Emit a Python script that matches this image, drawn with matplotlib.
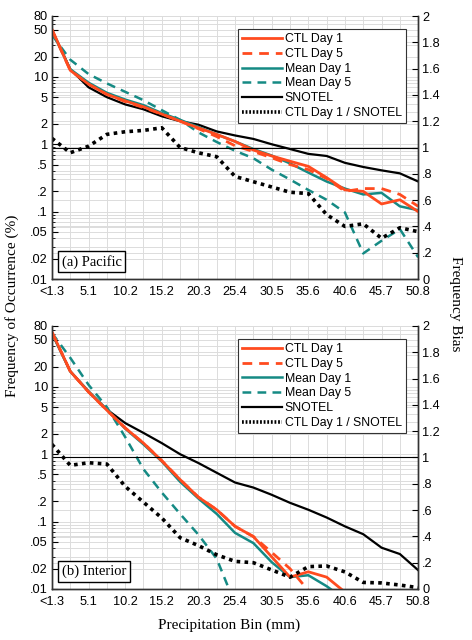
import numpy as np
import matplotlib
matplotlib.use('Agg')
import matplotlib.pyplot as plt
from matplotlib.lines import Line2D
from matplotlib.transforms import blended_transform_factory
from matplotlib.ticker import FixedLocator, NullFormatter

plt.rcParams['font.family'] = ['Liberation Sans', 'DejaVu Sans']

# bin index (every second bin of 1.27 mm), labels every fourth bin
bin_idx = np.arange(0, 41, 2)
tick_idx = np.arange(0, 41, 4)
tick_labels = ['<1.3', '5.1', '10.2', '15.2', '20.3', '25.4', '30.5', '35.6', '40.6', '45.7', '50.8']

# (a) Pacific - frequency of occurrence (%)
pac_ctl1 = [51, 12.5, 7.8, 5.5, 4.4, 3.6, 2.8, 2.2, 1.75, 1.4, 1.1, 0.82, 0.67, 0.56, 0.47, 0.32, 0.21, 0.2, 0.13, 0.15, 0.10]
pac_ctl5 = [50, 12.5, 7.8, 5.5, 4.3, 3.5, 2.8, 2.2, 1.7, 1.3, 0.95, 0.78, 0.63, 0.5, 0.42, 0.31, 0.2, 0.22, 0.22, 0.18, 0.12]
pac_mean1 = [48, 13, 8.2, 5.8, 4.6, 3.8, 2.9, 2.3, 1.8, 1.4, 1.1, 0.85, 0.68, 0.52, 0.38, 0.28, 0.22, 0.18, 0.19, 0.12, 0.105]
pac_mean5 = [42, 18, 11, 8, 6, 4.5, 3.2, 2.3, 1.5, 1.08, 0.8, 0.62, 0.42, 0.3, 0.21, 0.15, 0.097, 0.024, 0.037, 0.055, 0.021]
pac_snotel = [50, 13, 7, 5, 3.9, 3.3, 2.6, 2.2, 1.95, 1.55, 1.35, 1.2, 1.0, 0.85, 0.72, 0.67, 0.53, 0.46, 0.41, 0.37, 0.28]
pac_ratio = [1.07, 0.96, 1.01, 1.1, 1.12, 1.13, 1.15, 1.0, 0.96, 0.93, 0.78, 0.74, 0.70, 0.66, 0.65, 0.49, 0.40, 0.42, 0.31, 0.39, 0.36]

# (b) Interior
int_ctl1 = [65, 17, 8.4, 4.5, 2.45, 1.46, 0.8, 0.42, 0.23, 0.15, 0.085, 0.06, 0.03, 0.015, 0.018, 0.015, 0.009, np.nan, np.nan, np.nan, np.nan]
int_ctl5 = [65, 17, 8.4, 4.5, 2.45, 1.46, 0.8, 0.42, 0.23, 0.15, 0.085, 0.06, 0.035, 0.02, 0.0095, 0.005, np.nan, np.nan, np.nan, np.nan, np.nan]
int_mean1 = [62, 17, 8.6, 4.6, 2.4, 1.4, 0.78, 0.39, 0.22, 0.13, 0.068, 0.048, 0.025, 0.015, 0.016, 0.011, 0.007, np.nan, np.nan, np.nan, np.nan]
int_mean5 = [63, 27, 10.7, 5, 1.8, 0.6, 0.27, 0.13, 0.064, 0.028, 0.006, np.nan, np.nan, np.nan, np.nan, np.nan, np.nan, np.nan, np.nan, np.nan, np.nan]
int_snotel = [63, 17, 8.4, 4.6, 2.9, 2.07, 1.46, 1.0, 0.74, 0.53, 0.38, 0.32, 0.25, 0.19, 0.15, 0.115, 0.085, 0.065, 0.041, 0.033, 0.019]
int_ratio = [1.10, 0.94, 0.96, 0.95, 0.78, 0.66, 0.54, 0.39, 0.33, 0.26, 0.21, 0.2, 0.145, 0.09, 0.17, 0.175, 0.13, 0.05, 0.046, 0.03, 0.01]

freq_ticks = [80, 50, 20, 10, 5, 2, 1, .5, .2, .1, .05, .02, .01]
freq_labels = ['80', '50', '20', '10', '5', '2', '1', '.5', '.2', '.1', '.05', '.02', '.01']
bias_ticks = [0, .2, .4, .6, .8, 1, 1.2, 1.4, 1.6, 1.8, 2]
bias_labels = ['0', '.2', '.4', '.6', '.8', '1', '1.2', '1.4', '1.6', '1.8', '2']

RED = '#ff4b1f'
TEAL = '#158a84'
GRID = '#dcdcdc'
FS = 9.2


def panel(ax, ctl1, ctl5, mean1, mean5, snotel, ratio, title):
    ax.set_yscale('log')
    ax.set_ylim(0.01, 80)
    ax.set_xlim(0, 40)
    ax2 = ax.twinx()
    ax2.set_ylim(0, 2)

    # grid (left log grid + right-axis grid drawn underneath the data)
    minor = [m * 10.0 ** e for e in range(-2, 2) for m in range(1, 10)]
    for v in minor:
        ax.axhline(v, color=GRID, lw=0.7, zorder=0.5)
    trans = blended_transform_factory(ax.transAxes, ax2.transData)
    for b in bias_ticks:
        ax.plot([0, 1], [b, b], transform=trans, color=GRID, lw=0.7, zorder=0.5)
    for xi in bin_idx:
        ax.axvline(xi, color=GRID, lw=0.7, zorder=0.5)

    ax.plot(bin_idx, snotel, color='black', lw=1.6, zorder=2)
    ax.plot(bin_idx, mean5, color=TEAL, lw=1.8, ls=(0, (3.5, 2.5)), zorder=3)
    ax.plot(bin_idx, mean1, color=TEAL, lw=1.8, zorder=3)
    ax.plot(bin_idx, ctl5, color=RED, lw=2.0, ls=(0, (3.5, 2.5)), zorder=4)
    ax.plot(bin_idx, ctl1, color=RED, lw=2.0, zorder=4)

    ax2.axhline(1, color='black', lw=0.8)
    ax2.plot(bin_idx, ratio, color='black', lw=2.6, ls=(0, (1, 1.2)), dash_capstyle='butt')

    ax.set_yticks(freq_ticks)
    ax.set_yticklabels(freq_labels, fontsize=FS)
    ax.yaxis.set_minor_locator(FixedLocator([v for v in minor if v not in freq_ticks]))
    ax.yaxis.set_minor_formatter(NullFormatter())
    ax.tick_params(axis='y', which='major', direction='in', length=4, width=0.8, pad=3)
    ax.tick_params(axis='y', which='minor', direction='in', length=2.5, width=0.6)
    ax.set_xticks(tick_idx)
    ax.set_xticklabels(tick_labels, fontsize=FS)
    ax.tick_params(axis='x', length=0, pad=5)

    ax2.set_yticks(bias_ticks)
    ax2.set_yticklabels(bias_labels, fontsize=FS)
    ax2.tick_params(axis='y', direction='in', length=4, width=0.8, pad=3)

    for a in (ax, ax2):
        a.spines['top'].set_visible(False)
        for s in ('left', 'right', 'bottom'):
            a.spines[s].set_linewidth(1.0)
            a.spines[s].set_color('#333333')

    ax.text(0.027, 0.04, title, transform=ax.transAxes, fontsize=10.5,
            family=['Liberation Serif', 'DejaVu Serif'], ha='left', va='bottom', zorder=6,
            bbox=dict(boxstyle='square,pad=0.25', fc='white', ec='black', lw=1.0))

    handles = [
        Line2D([], [], color=RED, lw=2.0),
        Line2D([], [], color=RED, lw=2.0, ls=(0, (3.5, 2.5))),
        Line2D([], [], color=TEAL, lw=1.8),
        Line2D([], [], color=TEAL, lw=1.8, ls=(0, (3.5, 2.5))),
        Line2D([], [], color='black', lw=1.6),
        Line2D([], [], color='black', lw=2.6, ls=(0, (0.5, 0.5)), dash_capstyle='butt'),
    ]
    labels = ['CTL Day 1', 'CTL Day 5', 'Mean Day 1', 'Mean Day 5', 'SNOTEL', 'CTL Day 1 / SNOTEL']
    leg = ax2.legend(handles, labels, loc='upper right', bbox_to_anchor=(0.967, 0.95),
                     borderaxespad=0, fontsize=8.8, handlelength=3.3, handletextpad=0.2,
                     labelspacing=0.22, borderpad=0.35, fancybox=False, framealpha=1,
                     edgecolor='#333333')
    leg.get_frame().set_linewidth(0.8)
    return ax2


fig = plt.figure(figsize=(4.72, 6.40), dpi=100)
ax_top = fig.add_axes([0.110, 0.564, 0.776, 0.411])
ax_bot = fig.add_axes([0.110, 0.0797, 0.776, 0.411])

panel(ax_top, pac_ctl1, pac_ctl5, pac_mean1, pac_mean5, pac_snotel, pac_ratio, '(a) Pacific')
panel(ax_bot, int_ctl1, int_ctl5, int_mean1, int_mean5, int_snotel, int_ratio, '(b) Interior')

serif = ['Liberation Serif', 'DejaVu Serif']
fig.text(0.026, 1 - 306 / 640, 'Frequency of Occurrence (%)', rotation=90, va='center', ha='center',
         fontsize=11, family=serif)
fig.text(0.966, 1 - 304 / 640, 'Frequency Bias', rotation=270, va='center', ha='center',
         fontsize=11, family=serif)
fig.text(229 / 472, 1 - 625 / 640, 'Precipitation Bin (mm)', va='center', ha='center',
         fontsize=11, family=serif)

fig.savefig('out.png', dpi=100)
